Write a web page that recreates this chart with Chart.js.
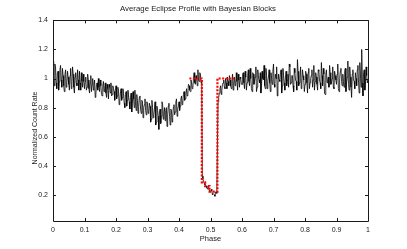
<!DOCTYPE html>
<html>
<head>
<meta charset="utf-8">
<script src="https://cdn.jsdelivr.net/npm/chart.js@4"></script>
<style>
  html, body { margin: 0; padding: 0; background: #fff; }
  #wrap { width: 407px; height: 249px; }
</style>
</head>
<body>
<div id="wrap"><canvas id="c" width="407" height="249"></canvas></div>
<script>
// ---- data ----
// countRateA: samples at phase 0.000, 0.004, 0.008, ... 1.000
// countRateB: samples at phase 0.002, 0.006, 0.010, ... 0.998
const phaseStep = 0.004;
const countRateA = [
  1.12, 0.95, 1.08, 0.93, 1.05, 0.98, 1.09, 0.94, 1.02, 0.91, 1.06, 0.97, 1.01, 0.92, 1.07, 0.96, 1.03, 0.90, 1.04, 0.95, 0.99, 1.05, 0.92, 0.98, 1.03,
  0.93, 1.01, 0.94, 0.99, 0.90, 1.02, 0.96, 0.92, 0.99, 0.89, 0.97, 1.00, 0.91, 0.95, 0.88, 0.98, 0.93, 0.90, 0.96, 0.86, 0.94, 0.97, 0.89, 0.93, 0.85,
  0.95, 0.88, 0.92, 0.84, 0.93, 0.87, 0.90, 0.80, 0.91, 0.85, 0.88, 0.79, 0.90, 0.83, 0.86, 0.92, 0.78, 0.85, 0.81, 0.88, 0.76, 0.84, 0.80, 0.86, 0.75,
  0.83, 0.77, 0.81, 0.72, 0.80, 0.75, 0.84, 0.70, 0.78, 0.65, 0.79, 0.74, 0.82, 0.76, 0.71, 0.80, 0.75, 0.83, 0.68, 0.78, 0.73, 0.82, 0.77, 0.86, 0.79,
  0.84, 0.81, 0.88, 0.83, 0.91, 0.86, 0.93, 0.89, 0.95, 0.91, 0.97, 0.94, 1.04, 0.96, 1.00, 1.06, 0.98, 1.03, 0.99,
  0.31,
  0.28, 0.27, 0.25, 0.26, 0.23, 0.22, 0.24, 0.21, 0.20, 0.22, 0.21,
  0.84,
  0.90, 0.95, 0.92, 0.97, 0.94, 1.00, 0.93, 0.98, 1.02, 0.95, 0.99, 0.92, 1.01, 0.96, 0.98, 1.03, 0.94, 1.00,
  0.96, 1.04, 0.93, 1.01, 0.97, 1.06, 0.95, 1.00, 0.91, 1.03, 0.98, 1.08, 0.94, 1.02, 0.97, 0.90, 1.05, 0.99, 0.95, 1.07,
  0.93, 1.01, 0.97, 1.04, 0.96, 1.10, 0.94, 1.00, 0.88, 1.03, 0.98, 1.06, 0.95, 1.02, 0.92, 1.05, 0.99, 0.94, 1.08, 0.97,
  1.02, 0.91, 1.04, 0.98, 1.13, 0.95, 1.01, 0.93, 1.06, 0.99, 0.96, 1.03, 0.90, 1.07, 0.97, 1.02, 0.94, 1.09, 0.98, 1.01,
  0.92, 1.05, 0.97, 1.11, 0.95, 1.03, 0.89, 1.06, 0.99, 0.94, 1.04, 0.97, 1.08, 0.93, 1.02, 0.96, 1.10, 0.91, 1.05, 0.98,
  1.03, 0.94, 1.07, 0.97, 1.12, 0.92, 1.01, 0.87, 1.06, 0.98, 1.04, 0.95, 1.09, 0.90, 1.03, 1.20, 0.88, 1.06, 0.96, 1.02, 0.99
];
const countRateB = [
  1.02, 1.10, 0.97, 1.04, 0.92, 1.06, 0.99, 1.07, 0.95, 1.03, 0.94, 1.05, 0.96, 1.02, 0.93, 1.08, 0.94, 1.01, 0.97, 1.06, 0.92, 0.97, 1.04, 0.94, 0.98,
  0.98, 0.92, 1.03, 0.93, 0.97, 0.91, 1.00, 0.95, 0.87, 0.96, 0.92, 0.94, 0.99, 0.89, 0.95, 0.91, 0.97, 0.87, 0.93, 0.96, 0.90, 0.88, 0.95, 0.91, 0.92,
  0.86, 0.94, 0.82, 0.90, 0.85, 0.93, 0.83, 0.89, 0.81, 0.92, 0.84, 0.87, 0.77, 0.91, 0.80, 0.84, 0.89, 0.76, 0.87, 0.79, 0.85, 0.73, 0.82, 0.78, 0.84,
  0.76, 0.83, 0.70, 0.85, 0.73, 0.79, 0.68, 0.81, 0.74, 0.77, 0.69, 0.84, 0.72, 0.80, 0.78, 0.67, 0.81, 0.74, 0.79, 0.70, 0.80, 0.75, 0.84, 0.74, 0.81,
  0.78, 0.86, 0.82, 0.89, 0.85, 0.90, 0.88, 0.96, 0.92, 0.99, 0.93, 1.00, 0.97, 1.02, 0.95, 0.99, 1.04, 0.97,
  0.33,
  0.29, 0.27, 0.26, 0.24, 0.25, 0.22, 0.23, 0.20, 0.21, 0.19, 0.22,
  0.55,
  0.87,
  0.93, 0.89, 0.96, 0.99, 0.93, 0.97, 1.01, 0.95, 0.99, 0.93, 1.03, 0.97, 0.95, 1.04, 0.92, 0.99, 1.01, 0.96,
  1.03, 0.97, 1.05, 0.92, 1.02, 0.98, 1.07, 0.93, 1.04, 0.96, 1.01, 0.91, 1.06, 0.99, 1.04, 0.95, 1.00, 1.09, 0.93, 1.02,
  0.98, 1.06, 0.91, 1.00, 1.05, 0.96, 1.03, 1.08, 0.95, 0.99, 1.04, 0.90, 1.07, 0.97, 1.01, 0.95, 1.03, 1.10, 0.96, 1.02,
  0.95, 1.07, 0.99, 0.92, 1.05, 0.97, 1.08, 0.96, 1.02, 0.91, 1.05, 0.97, 1.04, 0.93, 1.00, 1.06, 0.99, 0.92, 1.04, 0.96,
  1.06, 0.99, 0.93, 1.02, 1.07, 0.90, 1.03, 0.97, 1.01, 1.09, 0.96, 1.00, 0.94, 1.05, 0.99, 1.03, 0.93, 1.00, 1.07, 0.95,
  0.98, 1.05, 0.91, 1.01, 0.96, 1.08, 0.94, 1.03, 0.99, 0.93, 1.00, 1.06, 0.97, 1.11, 0.94, 0.97, 1.04, 0.92, 1.08, 0.97
];
// Bayesian blocks: edges and block levels
const blockEdges  = [0.433, 0.4725, 0.483, 0.497, 0.522, 0.578];
const blockLevels = [1.0, 0.285, 0.26, 0.222, 1.0];

const xTicks = [0, 0.1, 0.2, 0.3, 0.4, 0.5, 0.6, 0.7, 0.8, 0.9, 1];
const yTicks = [0.2, 0.4, 0.6, 0.8, 1.0, 1.2, 1.4];

// ---- build datasets ----
const lineData = [];
countRateA.forEach((v, i) => {
  lineData.push({ x: i * phaseStep, y: v });
  if (i < countRateB.length) lineData.push({ x: i * phaseStep + phaseStep / 2, y: countRateB[i] });
});
const blockData = [];
for (let k = 0; k < blockLevels.length; k++) {
  blockData.push({ x: blockEdges[k], y: blockLevels[k] });
  blockData.push({ x: blockEdges[k + 1], y: blockLevels[k] });
}

const FONT = 'Liberation Sans, Arial, Helvetica, sans-serif';
const AX = '#1a1a1a';
const TXT = '#222';

const boxTicks = {
  id: 'boxTicks',
  afterDraw(chart) {
    const { ctx, chartArea: a, scales } = chart;
    ctx.save();
    ctx.strokeStyle = AX;
    ctx.lineWidth = 1;
    ctx.beginPath();
    ctx.rect(Math.round(a.left) + 0.5, Math.round(a.top) + 0.5,
             Math.round(a.right) - Math.round(a.left), Math.round(a.bottom) - Math.round(a.top));
    const L = 3;
    scales.x.ticks.forEach(t => {
      const px = Math.round(scales.x.getPixelForValue(t.value)) + 0.5;
      ctx.moveTo(px, a.bottom); ctx.lineTo(px, a.bottom - L);
      ctx.moveTo(px, a.top); ctx.lineTo(px, a.top + L);
    });
    scales.y.ticks.forEach(t => {
      const py = Math.round(scales.y.getPixelForValue(t.value)) + 0.5;
      ctx.moveTo(a.left, py); ctx.lineTo(a.left + L, py);
      ctx.moveTo(a.right, py); ctx.lineTo(a.right - L, py);
    });
    ctx.stroke();
    // y-axis label
    ctx.fillStyle = TXT;
    ctx.font = '7px ' + FONT;
    ctx.textAlign = 'center';
    ctx.textBaseline = 'middle';
    ctx.translate(35, 128);
    ctx.rotate(-Math.PI / 2);
    ctx.fillText('Normalized Count Rate', 0, 0);
    ctx.restore();
  }
};

new Chart(document.getElementById('c'), {
  type: 'line',
  data: {
    datasets: [
      {
        data: blockData,
        borderColor: '#ff0000',
        borderWidth: 2.2,
        borderDash: [2, 1.5],
        pointRadius: 0,
        fill: false,
        tension: 0,
        order: 0
      },
      {
        data: lineData,
        borderColor: '#000000',
        borderWidth: 0.8,
        pointRadius: 0,
        fill: false,
        tension: 0,
        order: 1
      }
    ]
  },
  options: {
    responsive: false,
    animation: false,
    devicePixelRatio: 1,
    layout: { padding: { left: 28, right: 39, top: 0, bottom: 0 } },
    plugins: {
      legend: { display: false },
      tooltip: { enabled: false },
      title: {
        display: true,
        text: 'Average Eclipse Profile with Bayesian Blocks',
        color: TXT,
        font: { family: FONT, size: 7.8, weight: 'normal' },
        padding: { top: 4, bottom: 7 }
      }
    },
    scales: {
      x: {
        type: 'linear',
        min: 0, max: 1,
        afterBuildTicks(s) { s.ticks = xTicks.map(v => ({ value: v })); },
        afterFit(s) { s.height = 28; },
        grid: { display: false, drawTicks: false },
        border: { display: false },
        ticks: {
          color: TXT,
          font: { family: FONT, size: 7 },
          padding: 5,
          maxRotation: 0,
          callback: v => String(Math.round(v * 10) / 10)
        },
        title: {
          display: true, text: 'Phase', color: TXT,
          font: { family: FONT, size: 7.5 },
          padding: { top: 0, bottom: 6 }
        }
      },
      y: {
        type: 'linear',
        min: 0.02, max: 1.4,
        afterBuildTicks(s) { s.ticks = yTicks.map(v => ({ value: v })); },
        afterFit(s) { s.width = 25; },
        grid: { display: false, drawTicks: false },
        border: { display: false },
        ticks: {
          color: TXT,
          font: { family: FONT, size: 7 },
          padding: 5,
          callback: v => String(Math.round(v * 10) / 10)
        }
      }
    }
  },
  plugins: [boxTicks]
});
</script>
</body>
</html>
